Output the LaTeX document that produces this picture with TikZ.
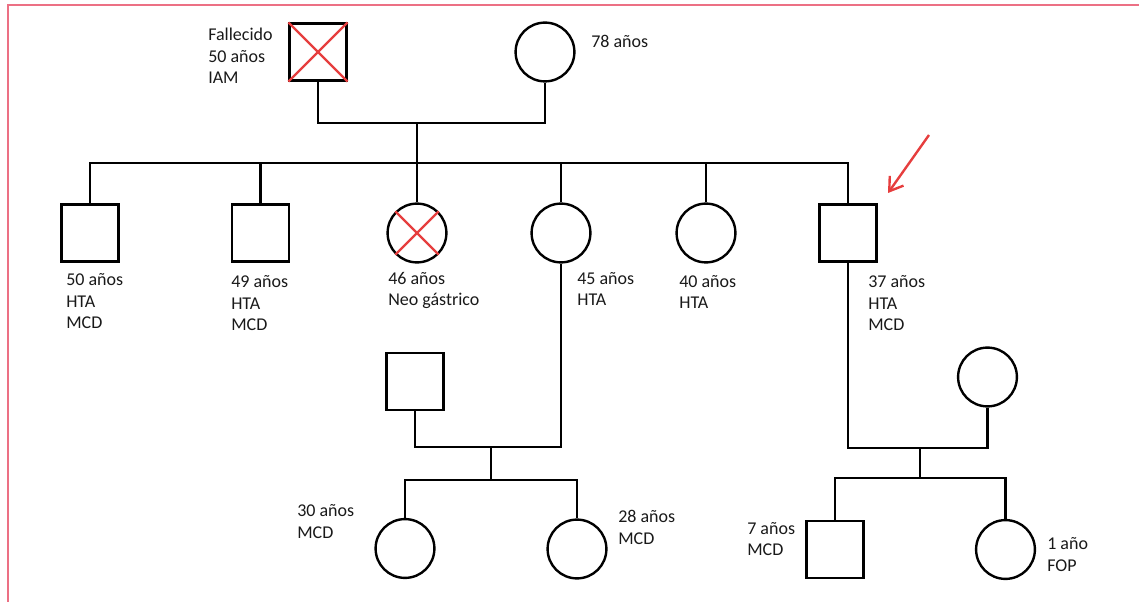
\documentclass[tikz,border=0pt]{standalone}
\usepackage{fontspec}
\setmainfont{Carlito}
\usetikzlibrary{arrows.meta}
\usetikzlibrary{positioning}

\definecolor{cruz}{RGB}{230,62,62}
\definecolor{marco}{RGB}{236,112,132}
\definecolor{texto}{RGB}{25,25,25}

\begin{document}
\begin{tikzpicture}[x=0.025cm,y=-0.025cm,
  varon/.style={draw,rectangle,line width=1.7pt,minimum size=1.42cm,inner sep=0pt},
  mujer/.style={draw,circle,line width=1.7pt,minimum size=1.47cm,inner sep=0pt},
  linea/.style={line width=1.7pt},
  cruzado/.style={draw=cruz,line width=1.7pt},
  dato/.style={font=\fontsize{12.8}{15.6}\selectfont,text=texto,align=left,anchor=base west,inner sep=0pt}]
\useasboundingbox (0,0) rectangle (1139,602);
\draw[marco,line width=1.4pt] (8,602) -- (8,5) -- (1139,5);

% abuelos
\node[varon] (ab) at (318,52) {};
\node[mujer] (aa) at (545,52) {};
\draw[cruzado] (ab.north west) -- (ab.south east) (ab.north east) -- (ab.south west);
\node[dato] (tab) at (208,84) {Fallecido\\50 años\\IAM};
\node[dato] (taa) at (591,48) {78 años};

% hijos
\node[varon] (h1) at (90,233) {};
\node[varon] (h2) at (260.5,233) {};
\node[mujer] (h3) at (417,233) {};
\node[mujer] (h4) at (561,233) {};
\node[mujer] (h5) at (706,233) {};
\node[varon] (h6) at (848,233) {};
\draw[cruzado] (h3.north west) -- (h3.south east) (h3.north east) -- (h3.south west);
\node[dato] (th1) at (66,329) {50 años\\HTA\\MCD};
\node[dato] (th2) at (231,331) {49 años\\HTA\\MCD};
\node[dato] (th3) at (388,306) {46 años\\Neo gástrico};
\node[dato] (th4) at (577,306) {45 años\\HTA};
\node[dato] (th5) at (679,309) {40 años\\HTA};
\node[dato] (th6) at (868,331) {37 años\\HTA\\MCD};

\coordinate (u1) at (417,123);
\draw[linea] (ab.south) |- (u1) -| (aa.south);
\draw[linea] (u1) -- (h3.north);
\coordinate (s1) at (417,163);
\draw[linea] (h1.north) |- (s1) -| (h6.north);
\foreach \h in {h2,h4,h5}
  \draw[linea] (\h.north) -- (\h.north |- s1);

% caso indice
\coordinate (f1) at (929,135);
\coordinate (f2) at (888,193);
\draw[cruz,line width=1.7pt,-{Straight Barb[length=0.32cm,width=0.42cm]}] (f1) -- (f2);

% parejas
\node[varon] (pa) at (415,381.5) {};
\node[mujer] (pb) at (987.5,377) {};

% nietos
\node[mujer] (n1) at (405,548.5) {};
\node[mujer] (n2) at (577,549) {};
\node[varon] (n3) at (835,549.5) {};
\node[mujer] (n4) at (1005.5,549.5) {};
\node[dato] (tn1) at (297,538) {30 años\\MCD};
\node[dato] (tn2) at (618,544) {28 años\\MCD};
\node[dato] (tn3) at (747,556) {7 años\\MCD};
\node[dato] (tn4) at (1047,571) {1 año\\FOP};

\coordinate (u2) at (490.7,447);
\draw[linea] (pa.south) |- (u2) -| (h4.south);
\coordinate (s2) at (490.7,480);
\draw[linea] (u2) -- (s2);
\draw[linea] (n1.north) |- (s2) -| (n2.north);

\coordinate (u3) at (920,448);
\draw[linea] (h6.south) |- (u3) -| (pb.south);
\coordinate (s3) at (920,478);
\draw[linea] (u3) -- (s3);
\draw[linea] (n3.north) |- (s3) -| (n4.north);

\end{tikzpicture}
\end{document}
